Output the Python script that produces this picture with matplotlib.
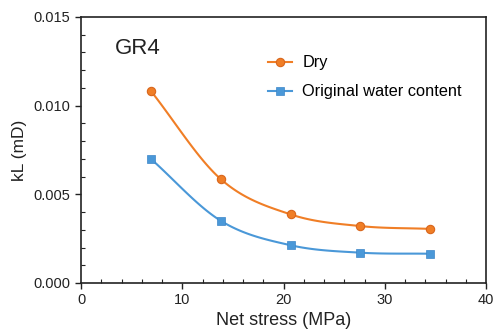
import numpy as np
import matplotlib
matplotlib.use("Agg")
import matplotlib.pyplot as plt
from matplotlib.ticker import MultipleLocator, FormatStrFormatter

plt.rcParams['font.family'] = ['Liberation Sans', 'DejaVu Sans']

# Données
stress = [6.9, 13.8, 20.7, 27.6, 34.5]
kl_dry = [0.01083, 0.00586, 0.00387, 0.00321, 0.00305]
kl_water = [0.00700, 0.00351, 0.00213, 0.00171, 0.00165]

orange = '#F07E26'
orange_edge = '#D9661C'
blue = '#4A98D8'
blue_edge = '#3C86C8'


def lisser(x, y, n=30):
    # courbe Catmull-Rom passant par les points
    x = np.asarray(x, float)
    y = np.asarray(y, float)
    px = np.concatenate([[2 * x[0] - x[1]], x, [2 * x[-1] - x[-2]]])
    py = np.concatenate([[2 * y[0] - y[1]], y, [2 * y[-1] - y[-2]]])
    xs, ys = [], []
    t = np.linspace(0, 1, n)
    for i in range(1, len(px) - 2):
        for p, out in ((px, xs), (py, ys)):
            p0, p1, p2, p3 = p[i - 1], p[i], p[i + 1], p[i + 2]
            out.extend(0.5 * ((2 * p1) + (-p0 + p2) * t
                              + (2 * p0 - 5 * p1 + 4 * p2 - p3) * t ** 2
                              + (-p0 + 3 * p1 - 3 * p2 + p3) * t ** 3))
    return np.array(xs), np.array(ys)


fig = plt.figure(figsize=(4.94, 3.31), dpi=100)
ax = fig.add_axes([81 / 494, 48 / 331, 405 / 494, 266 / 331])

sx, sy = lisser(stress, kl_dry)
ax.plot(sx, sy, color=orange, lw=1.5, zorder=2)
sx, sy = lisser(stress, kl_water)
ax.plot(sx, sy, color=blue, lw=1.5, zorder=2)

ax.plot(stress, kl_dry, 'o', color=orange, mec=orange_edge, mew=0.8, ms=6, zorder=3)
ax.plot(stress, kl_water, 's', color=blue, mec=blue_edge, mew=0.5, ms=5.5, zorder=3)

# légende (poignées ligne + marqueur)
ax.plot([], [], '-o', color=orange, mec=orange_edge, mew=0.8, ms=6, lw=1.5, label='Dry')
ax.plot([], [], '-s', color=blue, mec=blue_edge, mew=0.5, ms=5.5, lw=1.5, label='Original water content')
ax.legend(loc='upper left', bbox_to_anchor=(0.445, 0.88), frameon=False, fontsize=11.8,
          handlelength=1.5, handletextpad=0.6, labelspacing=0.85, borderaxespad=0)

ax.text(0.083, 0.88, 'GR4', transform=ax.transAxes, fontsize=16, color='#222222', va='center')

ax.set_xlim(0, 40)
ax.set_ylim(0, 0.015)
ax.xaxis.set_major_locator(MultipleLocator(10))
ax.xaxis.set_minor_locator(MultipleLocator(2))
ax.yaxis.set_major_locator(MultipleLocator(0.005))
ax.yaxis.set_minor_locator(MultipleLocator(0.001))
ax.yaxis.set_major_formatter(FormatStrFormatter('%.3f'))
ax.tick_params(which='major', direction='out', length=4, width=1, labelsize=10.5,
               colors='#222222')
ax.tick_params(which='minor', direction='in', length=3, width=0.8, colors='#222222')
for s in ax.spines.values():
    s.set_linewidth(1.2)
    s.set_color('#222222')

ax.set_xlabel('Net stress (MPa)', fontsize=13, color='#222222', labelpad=3)
ax.set_ylabel('kL (mD)', fontsize=12.5, color='#222222', labelpad=5)

fig.savefig('out.png', dpi=100)
